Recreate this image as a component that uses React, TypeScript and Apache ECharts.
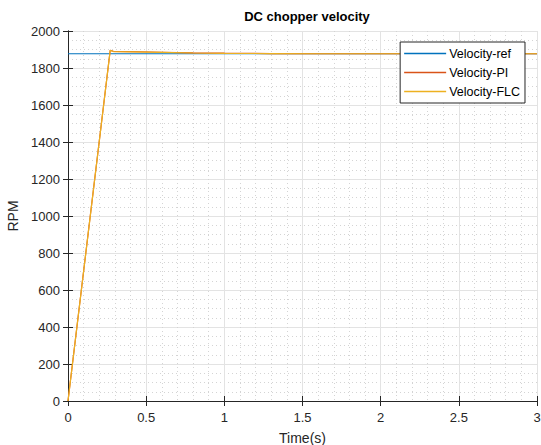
import React, { useEffect, useRef } from "react";
import * as echarts from "echarts";

const seriesNames = ["Velocity-ref", "Velocity-PI", "Velocity-FLC"];
const refData: [number, number][] = [[0, 1877], [3, 1877]];
const piData: [number, number][] = [
  [0, 0], [0.27, 1896], [0.29, 1890], [0.4, 1888], [0.6, 1885], [0.8, 1882],
  [1.0, 1880], [1.3, 1878], [1.6, 1877], [3, 1877],
];
const flcData: [number, number][] = [
  [0, 0], [0.27, 1895], [0.29, 1889], [0.4, 1887], [0.6, 1884], [0.8, 1881],
  [1.0, 1879], [1.3, 1878], [1.6, 1877], [3, 1877],
];
const colors = ["#0072BD", "#D95319", "#EDB120"];

export default function App() {
  const ref = useRef<HTMLDivElement>(null);
  useEffect(() => {
    const chart = echarts.init(ref.current!, null, { renderer: "svg" });
    const axisColor = "#262626";
    const font = "Liberation Sans, Arial, sans-serif";
    const minorSplit = { show: true, lineStyle: { color: "#d4d4d4", type: [1, 3] as any, width: 1 } };
    const plain = (v: number) => String(v);
    chart.setOption({
      animation: false,
      color: colors,
      title: {
        text: "DC chopper velocity",
        left: 302,
        top: 5,
        textAlign: "center",
        textStyle: { fontFamily: font, fontSize: 13, fontWeight: "bold", color: "#000" },
      },
      legend: {
        orient: "vertical",
        right: 16,
        top: 42,
        z: 20,
        backgroundColor: "#fff",
        borderColor: "#262626",
        borderWidth: 1,
        padding: [5, 5, 5, 4],
        itemGap: 6,
        itemWidth: 42,
        itemHeight: 1.5,
        icon: "rect",
        textStyle: { fontFamily: font, fontSize: 12.5, color: "#000", padding: [0, 0, 0, -2] },
        data: seriesNames,
      },
      grid: { left: 68, right: 4, top: 31, bottom: 44, outerBoundsMode: "none", containLabel: false },
      xAxis: [
        {
          type: "value",
          min: 0,
          max: 3,
          interval: 0.5,
          name: "Time(s)",
          nameLocation: "middle",
          nameGap: 30,
          nameTextStyle: { fontFamily: font, fontSize: 14, color: axisColor },
          axisLine: { lineStyle: { color: axisColor } },
          axisTick: { inside: true, length: 5, lineStyle: { color: axisColor } },
          axisLabel: { fontFamily: font, fontSize: 13, color: axisColor, margin: 10, formatter: plain },
          splitLine: { show: true, lineStyle: { color: "#e3e3e3" } },
          minorTick: { show: false, splitNumber: 5 },
          minorSplitLine: minorSplit,
        },
        {
          type: "value",
          position: "top",
          min: 0,
          max: 3,
          interval: 0.5,
          axisLine: { show: true, lineStyle: { color: axisColor } },
          axisTick: { inside: true, length: 5, lineStyle: { color: axisColor } },
          axisLabel: { show: false },
          splitLine: { show: false },
        },
      ],
      yAxis: [
        {
          type: "value",
          min: 0,
          max: 2000,
          interval: 200,
          name: "RPM",
          nameLocation: "middle",
          nameGap: 42,
          nameTextStyle: { fontFamily: font, fontSize: 14, color: axisColor },
          axisLine: { show: true, lineStyle: { color: axisColor } },
          axisTick: { show: true, inside: true, length: 5, lineStyle: { color: axisColor } },
          axisLabel: { fontFamily: font, fontSize: 13, color: axisColor, margin: 8, formatter: plain },
          splitLine: { show: true, lineStyle: { color: "#e3e3e3" } },
          minorTick: { show: false, splitNumber: 4 },
          minorSplitLine: minorSplit,
        },
        {
          type: "value",
          position: "right",
          min: 0,
          max: 2000,
          interval: 200,
          axisLine: { show: true, lineStyle: { color: axisColor } },
          axisTick: { show: true, inside: true, length: 5, lineStyle: { color: axisColor } },
          axisLabel: { show: false },
          splitLine: { show: false },
        },
      ],
      series: [
        { name: seriesNames[0], type: "line", data: refData, symbol: "none", lineStyle: { width: 1.2 } },
        { name: seriesNames[1], type: "line", data: piData, symbol: "none", lineStyle: { width: 1.2 } },
        { name: seriesNames[2], type: "line", data: flcData, symbol: "none", lineStyle: { width: 1.2 } },
      ],
    });
    return () => chart.dispose();
  }, []);
  return <div ref={ref} style={{ width: 541, height: 445, position: "absolute", left: 0, top: 0, background: "#fff" }} />;
}
